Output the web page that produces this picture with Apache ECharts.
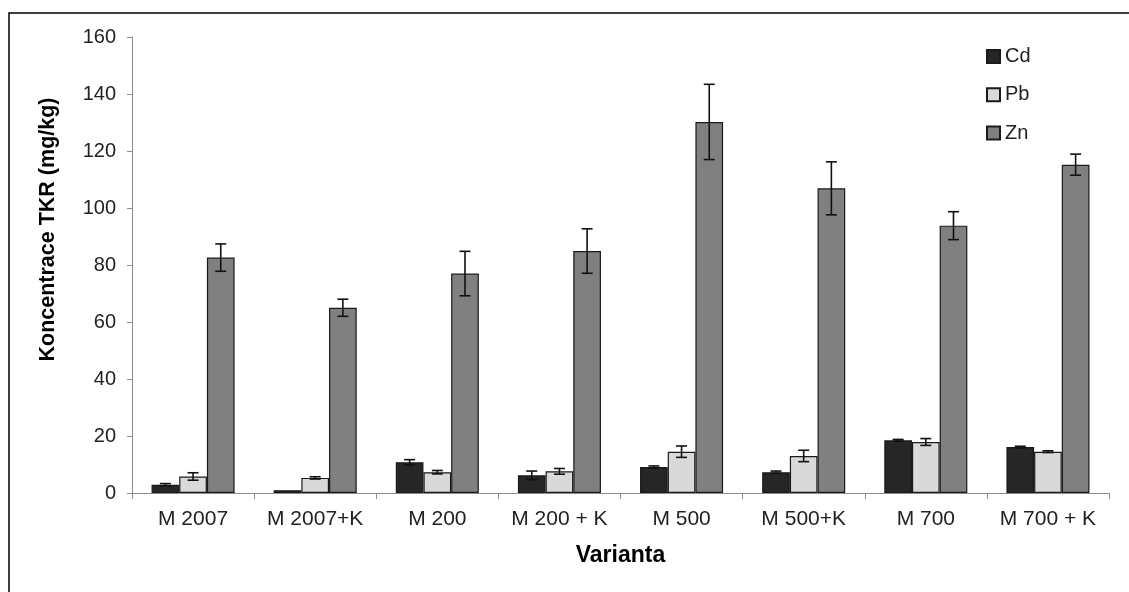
<!DOCTYPE html>
<html>
<head>
<meta charset="utf-8">
<script src="https://cdn.jsdelivr.net/npm/echarts@6/dist/echarts.min.js"></script>
<style>html,body{margin:0;padding:0;background:#fff}#c{width:1129px;height:592px}</style>
</head>
<body>
<div id="c"></div>
<script>
const categories = ['M 2007','M 2007+K','M 200','M 200 + K','M 500','M 500+K','M 700','M 700 + K'];
const yTicks = [0,20,40,60,80,100,120,140,160];
const cd = [2.9, 1.0, 10.8, 6.2, 9.1, 7.3, 18.5, 16.1];
const cdErr = [0.4, 0.0, 0.9, 1.5, 0.4, 0.4, 0.3, 0.3];
const pb = [5.8, 5.3, 7.3, 7.6, 14.5, 13.0, 17.9, 14.5];
const pbErr = [1.3, 0.4, 0.6, 1.0, 2.0, 2.0, 1.2, 0.3];
const zn = [82.6, 65.0, 77.0, 84.9, 130.2, 106.9, 93.8, 115.2];
const znErr = [4.8, 3.0, 7.8, 7.8, 13.2, 9.3, 4.9, 3.7];

const FONT = '"Liberation Sans", Arial, sans-serif';
const CAT_GAP = 0.32;
const colors = ['#262626', '#d9d9d9', '#808080'];
const names = ['Cd', 'Pb', 'Zn'];
const vals = [cd, pb, zn];
const errs = [cdErr, pbErr, znErr];

function errSeries(si) {
  return {
    type: 'custom',
    name: names[si] + ' err',
    z: 10,
    silent: true,
    data: vals[si].map((v, i) => [i, v - errs[si][i], v + errs[si][i], errs[si][i]]),
    renderItem: function (params, api) {
      if (api.value(3) <= 0) return null;
      const cat = api.value(0);
      const lo = api.coord([cat, api.value(1)]);
      const hi = api.coord([cat, api.value(2)]);
      const bw = api.size([1, 0])[0];
      const barW = bw * (1 - CAT_GAP) / 3;
      const x = lo[0] + (si - 1) * barW;
      const cap = 5.5;
      const st = { stroke: '#111', lineWidth: 1.6 };
      return {
        type: 'group',
        children: [
          { type: 'line', shape: { x1: x, y1: hi[1], x2: x, y2: lo[1] }, style: st },
          { type: 'line', shape: { x1: x - cap, y1: hi[1], x2: x + cap, y2: hi[1] }, style: st },
          { type: 'line', shape: { x1: x - cap, y1: lo[1], x2: x + cap, y2: lo[1] }, style: st }
        ]
      };
    }
  };
}

const barSeries = names.map((n, si) => ({
  type: 'bar',
  name: n,
  data: vals[si],
  barGap: '0%',
  barCategoryGap: (CAT_GAP * 100) + '%',
  itemStyle: { color: colors[si], borderColor: '#1a1a1a', borderWidth: 1.2 },
  emphasis: { disabled: true }
}));

const chart = echarts.init(document.getElementById('c'), null, { renderer: 'canvas' });
chart.setOption({
  animation: false,
  backgroundColor: '#fff',
  textStyle: { fontFamily: FONT },
  grid: { left: 132, right: 20, top: 37, bottom: 99, containLabel: false },
  legend: {
    data: names,
    orient: 'vertical',
    left: 981,
    top: 41,
    itemWidth: 13,
    itemHeight: 13,
    itemGap: 17.3,
    icon: 'rect',
    textStyle: { fontFamily: FONT, fontSize: 20, color: '#222', lineHeight: 21 },
    selectedMode: false
  },
  xAxis: {
    type: 'category',
    data: categories,
    axisLine: { lineStyle: { color: '#8c8c8c', width: 1 } },
    axisTick: { show: true, length: 6, lineStyle: { color: '#8c8c8c' } },
    axisLabel: { fontFamily: FONT, fontSize: 21, color: '#222', margin: 16, interval: 0 },
    name: 'Varianta',
    nameLocation: 'middle',
    nameGap: 51,
    nameTextStyle: { fontFamily: FONT, fontSize: 23, fontWeight: 'bold', color: '#000' }
  },
  yAxis: {
    type: 'value',
    min: yTicks[0],
    max: yTicks[yTicks.length - 1],
    interval: 20,
    splitLine: { show: false },
    axisLine: { show: true, lineStyle: { color: '#8c8c8c', width: 1 } },
    axisTick: { show: true, length: 5, lineStyle: { color: '#8c8c8c' } },
    axisLabel: { fontFamily: FONT, fontSize: 20, color: '#222', margin: 16 }
  },
  graphic: [
    { type: 'rect', shape: { x: 9, y: 13, width: 1200, height: 640 }, style: { fill: 'none', stroke: '#000', lineWidth: 1.5 }, silent: true, z: 100 },
    { type: 'text', x: 48, y: 229.5, rotation: Math.PI / 2,
      style: { text: 'Koncentrace TKR (mg/kg)', font: 'bold 21.5px ' + FONT, fill: '#000', align: 'center', verticalAlign: 'middle' } }
  ],
  series: barSeries.concat([errSeries(0), errSeries(1), errSeries(2)])
});
</script>
</body>
</html>
